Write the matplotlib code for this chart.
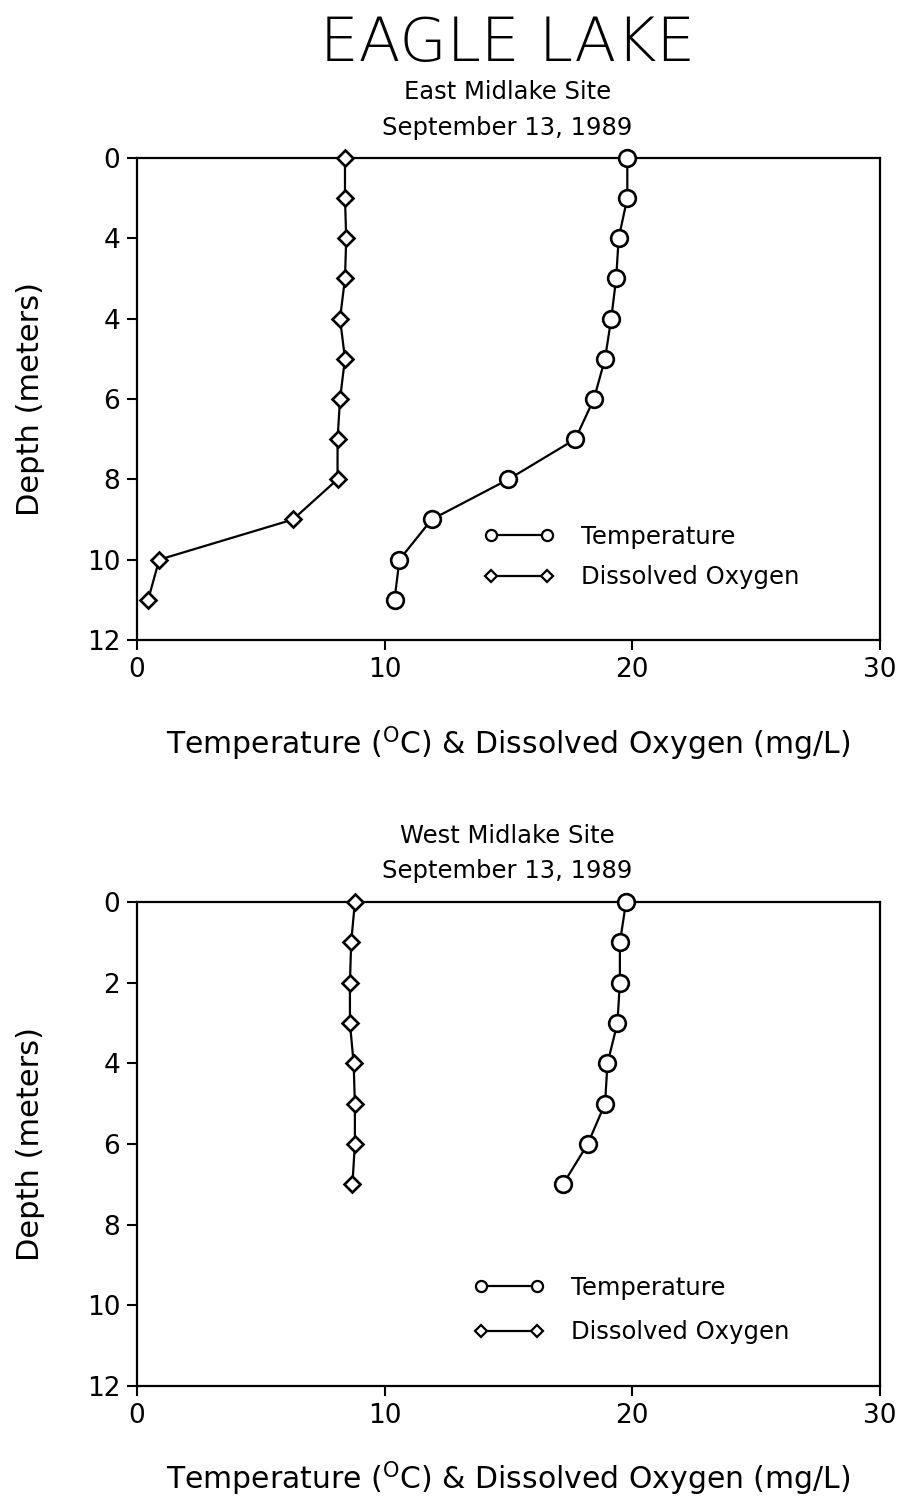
import numpy as np
import matplotlib.pyplot as plt
from matplotlib.lines import Line2D

# depth profiles
east_depth = [0, 1, 2, 3, 4, 5, 6, 7, 8, 9, 10, 11]
east_temp = [19.8, 19.8, 19.45, 19.35, 19.15, 18.9, 18.45, 17.7, 15.0, 11.9, 10.6, 10.4]
east_do = [8.4, 8.4, 8.45, 8.4, 8.2, 8.4, 8.2, 8.1, 8.1, 6.3, 0.9, 0.45]

west_depth = [0, 1, 2, 3, 4, 5, 6, 7]
west_temp = [19.75, 19.5, 19.5, 19.4, 19.0, 18.9, 18.2, 17.2]
west_do = [8.8, 8.65, 8.6, 8.6, 8.75, 8.8, 8.8, 8.7]

y_ticks = [0, 2, 4, 6, 8, 10, 12]
east_ytick_labels = ['0', '4', '4', '6', '8', '10', '12']  # as printed in the scan
west_ytick_labels = ['0', '2', '4', '6', '8', '10', '12']
x_ticks = [0, 10, 20, 30]

plt.rcParams['font.family'] = 'DejaVu Sans'

fig = plt.figure(figsize=(9.01, 14.96), dpi=100)
ax1 = fig.add_axes([0.152, 0.5722, 0.8246, 0.3222])
ax2 = fig.add_axes([0.152, 0.0735, 0.8246, 0.3235])

xlabel = r'Temperature ($^{\mathrm{O}}$C) & Dissolved Oxygen (mg/L)'


def draw_profile(ax, depth, temp, do, ylabels, leg_anchor, xpad, lspace):
    ax.plot(temp, depth, color='black', lw=1.6, marker='o', ms=12,
            mfc='white', mec='black', mew=1.9, zorder=3, clip_on=False)
    ax.plot(do, depth, color='black', lw=1.6, marker='D', ms=8.5,
            mfc='white', mec='black', mew=1.9, zorder=3, clip_on=False)
    ax.set_xlim(0, 30)
    ax.set_ylim(12, 0)
    ax.set_xticks(x_ticks)
    ax.set_yticks(y_ticks)
    ax.set_yticklabels(ylabels)
    ax.tick_params(direction='out', length=7, width=1.5, labelsize=19, pad=5)
    for s in ax.spines.values():
        s.set_linewidth(1.6)
    ax.set_xlabel(xlabel, fontsize=21.5, labelpad=xpad)
    ax.set_ylabel('Depth (meters)', fontsize=22, labelpad=30)

    handles = [
        Line2D([], [], color='black', lw=1.6, marker='o', ms=8, mfc='white', mec='black', mew=1.6),
        Line2D([], [], color='black', lw=1.6, marker='D', ms=6, mfc='white', mec='black', mew=1.6),
    ]
    ax.legend(handles, ['Temperature', 'Dissolved Oxygen'], loc='upper left',
              bbox_to_anchor=leg_anchor, frameon=False, numpoints=2,
              handlelength=2.9, fontsize=17.5, labelspacing=lspace, handletextpad=1.1)


draw_profile(ax1, east_depth, east_temp, east_do, east_ytick_labels, (0.437, 0.284), 30, 0.66)
draw_profile(ax2, west_depth, west_temp, west_do, west_ytick_labels, (0.424, 0.273), 22, 0.85)

fig.text(0.563, 0.9705, 'EAGLE LAKE', ha='center', va='center', fontsize=44, fontweight='light')
fig.text(0.563, 0.9385, 'East Midlake Site', ha='center', va='center', fontsize=17.5, fontweight='medium')
fig.text(0.563, 0.9145, 'September 13, 1989', ha='center', va='center', fontsize=17.5, fontweight='medium')
fig.text(0.563, 0.441, 'West Midlake Site', ha='center', va='center', fontsize=17.5, fontweight='medium')
fig.text(0.563, 0.4177, 'September 13, 1989', ha='center', va='center', fontsize=17.5, fontweight='medium')

fig.savefig('out.png', dpi=100, facecolor='white')
